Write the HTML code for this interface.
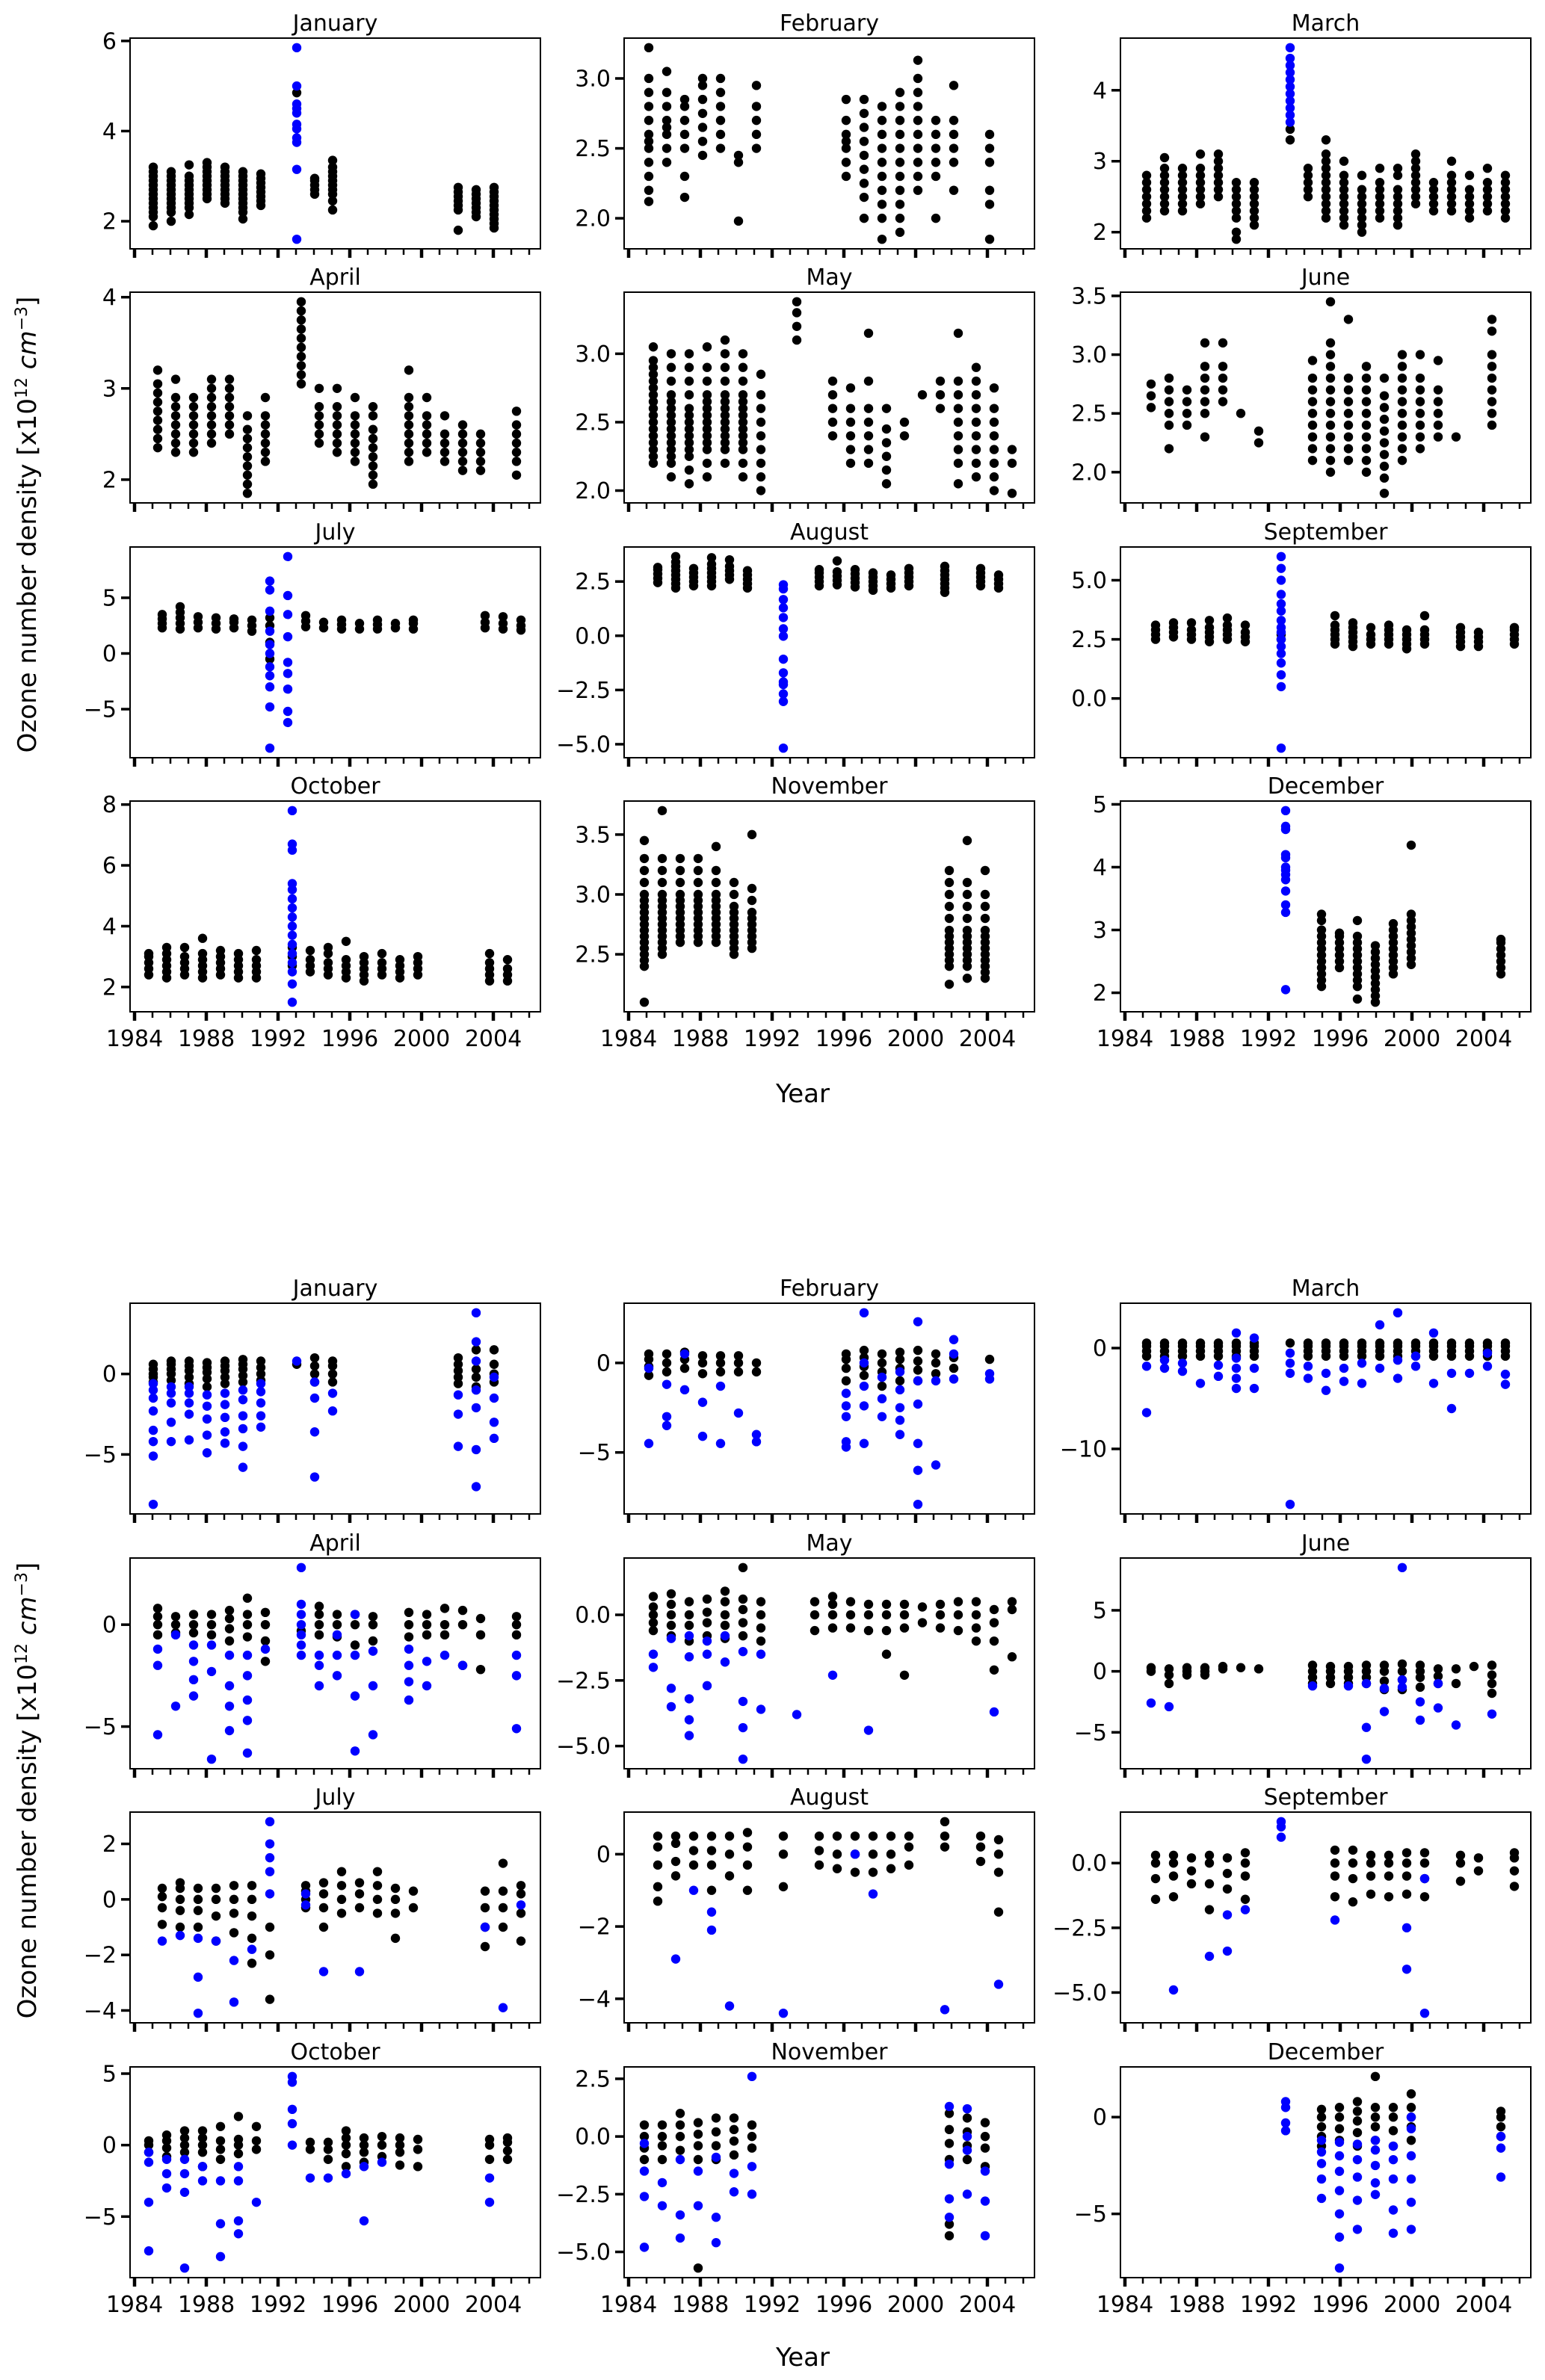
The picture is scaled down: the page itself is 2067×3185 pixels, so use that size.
<!DOCTYPE html>
<html><head><meta charset="utf-8"><style>
html,body{margin:0;padding:0;background:#fff}
svg{display:block}
text{font-family:"DejaVu Sans","Liberation Sans",sans-serif;fill:#000}
</style></head><body>
<svg id="fig" width="2067" height="3185" viewBox="0 0 2067 3185" xmlns="http://www.w3.org/2000/svg">
<text transform="translate(48,702) rotate(-90)" text-anchor="middle" font-size="34">Ozone number density [x10<tspan baseline-shift="super" font-size="22">12</tspan> <tspan font-style="italic">cm</tspan><tspan baseline-shift="super" font-size="22">−3</tspan>]</text>
<text transform="translate(48,2396) rotate(-90)" text-anchor="middle" font-size="34">Ozone number density [x10<tspan baseline-shift="super" font-size="22">12</tspan> <tspan font-style="italic">cm</tspan><tspan baseline-shift="super" font-size="22">−3</tspan>]</text>
<text x="1074" y="1475" text-anchor="middle" font-size="34">Year</text>
<text x="1074" y="3166" text-anchor="middle" font-size="34">Year</text>
</svg>
<script>
const monthTitles=["January","February","March","April","May","June","July","August","September","October","November","December"];
const xTickYears=[1984,1988,1992,1996,2000,2004];

const topJan=[[1985,[1.9,2.1,2.2,2.3,2.4,2.5,2.6,2.7,2.8,2.9,3.0,3.1,3.2],[]],[1986,[2.0,2.2,2.3,2.4,2.5,2.6,2.7,2.8,2.9,3.0,3.1],[]],[1987,[2.15,2.3,2.4,2.5,2.6,2.7,2.8,2.9,3.0,3.25],[]],[1988,[2.5,2.6,2.7,2.8,2.9,3.0,3.1,3.2,3.3],[]],[1989,[2.4,2.5,2.6,2.7,2.8,2.9,3.0,3.1,3.2],[]],[1990,[2.05,2.2,2.3,2.4,2.5,2.6,2.7,2.8,2.9,3.0,3.1],[]],[1991,[2.35,2.45,2.55,2.65,2.75,2.85,2.95,3.05],[]],[1993,[4.85],[1.6,3.15,3.75,3.85,4.05,4.15,4.4,4.5,4.6,5.0,5.85]],[1994,[2.6,2.7,2.8,2.9,2.95],[]],[1995,[2.25,2.45,2.6,2.7,2.8,2.9,3.0,3.1,3.2,3.35],[]],[2002,[1.8,2.25,2.35,2.45,2.55,2.65,2.75],[]],[2003,[2.1,2.2,2.3,2.4,2.5,2.6,2.7],[]],[2004,[1.85,1.95,2.05,2.15,2.25,2.35,2.45,2.55,2.65,2.75],[]]];
const topFeb=[[1985,[2.12,2.2,2.3,2.4,2.5,2.55,2.6,2.7,2.8,2.9,3.0,3.22],[]],[1986,[2.4,2.5,2.6,2.65,2.7,2.8,2.9,3.05],[]],[1987,[2.15,2.3,2.5,2.6,2.7,2.8,2.85],[]],[1988,[2.45,2.55,2.65,2.75,2.85,2.95,3.0],[]],[1989,[2.5,2.6,2.7,2.8,2.9,3.0],[]],[1990,[1.98,2.4,2.45],[]],[1991,[2.5,2.6,2.7,2.8,2.95],[]],[1996,[2.3,2.4,2.5,2.55,2.6,2.7,2.85],[]],[1997,[2.0,2.15,2.25,2.35,2.45,2.55,2.65,2.75,2.85],[]],[1998,[1.85,2.0,2.1,2.2,2.3,2.4,2.5,2.6,2.7,2.8],[]],[1999,[1.9,2.0,2.1,2.2,2.3,2.4,2.5,2.6,2.7,2.8,2.9],[]],[2000,[2.2,2.3,2.4,2.5,2.6,2.7,2.8,2.9,3.0,3.13],[]],[2001,[2.0,2.3,2.4,2.5,2.6,2.7],[]],[2002,[2.2,2.4,2.5,2.6,2.7,2.95],[]],[2004,[1.85,2.1,2.2,2.4,2.5,2.6],[]]];
const topMar=[[1985,[2.2,2.3,2.4,2.5,2.6,2.7,2.8],[]],[1986,[2.3,2.4,2.5,2.6,2.7,2.8,2.9,3.05],[]],[1987,[2.3,2.4,2.5,2.6,2.7,2.8,2.9],[]],[1988,[2.4,2.5,2.6,2.7,2.8,2.9,3.1],[]],[1989,[2.5,2.6,2.7,2.8,2.9,3.0,3.1],[]],[1990,[1.9,2.0,2.2,2.3,2.4,2.5,2.6,2.7],[]],[1991,[2.1,2.2,2.3,2.4,2.5,2.6,2.7],[]],[1993,[3.3,3.45],[3.55,3.65,3.75,3.85,3.95,4.05,4.15,4.25,4.35,4.45,4.6]],[1994,[2.5,2.6,2.7,2.8,2.9],[]],[1995,[2.2,2.3,2.4,2.5,2.6,2.7,2.8,2.9,3.0,3.1,3.3],[]],[1996,[2.1,2.2,2.3,2.4,2.5,2.6,2.7,2.8,3.0],[]],[1997,[2.0,2.1,2.2,2.3,2.4,2.5,2.6,2.8],[]],[1998,[2.2,2.3,2.4,2.5,2.6,2.7,2.9],[]],[1999,[2.1,2.2,2.3,2.4,2.5,2.6,2.8,2.9],[]],[2000,[2.4,2.5,2.6,2.7,2.8,2.9,3.0,3.1],[]],[2001,[2.3,2.4,2.5,2.6,2.7],[]],[2002,[2.3,2.4,2.5,2.6,2.7,2.8,3.0],[]],[2003,[2.2,2.3,2.4,2.5,2.6,2.8],[]],[2004,[2.3,2.4,2.5,2.6,2.7,2.9],[]],[2005,[2.2,2.3,2.4,2.5,2.6,2.7,2.8],[]]];
const topApr=[[1985,[2.35,2.45,2.55,2.65,2.75,2.85,2.95,3.05,3.2],[]],[1986,[2.3,2.4,2.5,2.6,2.7,2.8,2.9,3.1],[]],[1987,[2.3,2.4,2.5,2.6,2.7,2.8,2.9],[]],[1988,[2.4,2.5,2.6,2.7,2.8,2.9,3.0,3.1],[]],[1989,[2.5,2.6,2.7,2.8,2.9,3.0,3.1],[]],[1990,[1.85,1.95,2.05,2.15,2.25,2.35,2.45,2.55,2.7],[]],[1991,[2.2,2.3,2.4,2.5,2.6,2.7,2.9],[]],[1993,[3.05,3.15,3.25,3.35,3.45,3.55,3.65,3.75,3.85,3.95],[]],[1994,[2.4,2.5,2.6,2.7,2.8,3.0],[]],[1995,[2.3,2.4,2.5,2.6,2.7,2.8,3.0],[]],[1996,[2.2,2.3,2.4,2.5,2.6,2.7,2.9],[]],[1997,[1.95,2.05,2.15,2.25,2.35,2.45,2.55,2.7,2.8],[]],[1999,[2.2,2.3,2.4,2.5,2.6,2.7,2.8,2.9,3.2],[]],[2000,[2.3,2.4,2.5,2.6,2.7,2.9],[]],[2001,[2.2,2.3,2.4,2.5,2.7],[]],[2002,[2.1,2.2,2.3,2.4,2.5,2.6],[]],[2003,[2.1,2.2,2.3,2.4,2.5],[]],[2005,[2.05,2.2,2.3,2.4,2.5,2.6,2.75],[]]];
const topMay=[[1985,[2.2,2.25,2.3,2.35,2.4,2.45,2.5,2.55,2.6,2.65,2.7,2.75,2.8,2.85,2.9,2.95,3.05],[]],[1986,[2.1,2.2,2.25,2.3,2.35,2.4,2.45,2.5,2.55,2.6,2.65,2.7,2.8,2.9,3.0],[]],[1987,[2.05,2.15,2.25,2.3,2.35,2.4,2.45,2.5,2.55,2.6,2.7,2.8,2.9,3.0],[]],[1988,[2.1,2.2,2.3,2.35,2.4,2.45,2.5,2.55,2.6,2.65,2.7,2.8,2.9,3.05],[]],[1989,[2.2,2.3,2.35,2.4,2.45,2.5,2.55,2.6,2.65,2.7,2.8,2.9,3.0,3.1],[]],[1990,[2.1,2.2,2.3,2.35,2.4,2.45,2.5,2.55,2.6,2.65,2.7,2.8,2.9,3.0],[]],[1991,[2.0,2.1,2.2,2.3,2.4,2.5,2.6,2.7,2.85],[]],[1993,[3.1,3.2,3.3,3.38],[]],[1995,[2.4,2.5,2.6,2.7,2.8],[]],[1996,[2.2,2.3,2.4,2.5,2.6,2.75],[]],[1997,[2.2,2.3,2.4,2.5,2.6,2.8,3.15],[]],[1998,[2.05,2.15,2.25,2.35,2.45,2.6],[]],[1999,[2.4,2.5],[]],[2000,[2.7],[]],[2001,[2.6,2.7,2.8],[]],[2002,[2.05,2.2,2.3,2.4,2.5,2.6,2.7,2.8,3.15],[]],[2003,[2.1,2.2,2.3,2.4,2.5,2.6,2.7,2.8,2.9],[]],[2004,[2.0,2.1,2.2,2.3,2.4,2.5,2.6,2.75],[]],[2005,[1.98,2.2,2.3],[]]];
const topJun=[[1985,[2.55,2.65,2.75],[]],[1986,[2.2,2.4,2.5,2.6,2.7,2.8],[]],[1987,[2.4,2.5,2.6,2.7],[]],[1988,[2.3,2.5,2.6,2.7,2.8,2.9,3.1],[]],[1989,[2.6,2.7,2.8,2.9,3.1],[]],[1990,[2.5],[]],[1991,[2.25,2.35],[]],[1994,[2.1,2.2,2.3,2.4,2.5,2.6,2.7,2.8,2.95],[]],[1995,[2.0,2.1,2.2,2.3,2.4,2.5,2.6,2.7,2.8,2.9,3.0,3.1,3.45],[]],[1996,[2.1,2.2,2.3,2.4,2.5,2.6,2.7,2.8,3.3],[]],[1997,[2.0,2.1,2.2,2.3,2.4,2.5,2.6,2.7,2.8,2.9],[]],[1998,[1.82,1.95,2.05,2.15,2.25,2.35,2.45,2.55,2.65,2.8],[]],[1999,[2.1,2.2,2.3,2.4,2.5,2.6,2.7,2.8,2.9,3.0],[]],[2000,[2.2,2.3,2.4,2.5,2.6,2.7,2.8,3.0],[]],[2001,[2.3,2.4,2.5,2.6,2.7,2.95],[]],[2002,[2.3],[]],[2004,[2.4,2.5,2.6,2.7,2.8,2.9,3.0,3.2,3.3],[]]];
const topJul=[[1985,[2.3,2.7,3.1,3.5],[]],[1986,[2.2,2.7,3.2,3.7,4.2],[]],[1987,[2.3,2.8,3.3],[]],[1988,[2.2,2.7,3.2],[]],[1989,[2.3,2.8,3.1],[]],[1990,[2.0,2.5,3.0],[]],[1991,[-0.5,1.0,2.5,3.2],[-8.5,-4.8,-3.0,-2.0,-1.2,0.0,0.8,2.0,3.8,5.7,6.5]],[1992,[],[-6.2,-5.2,-3.2,-1.8,-0.8,1.5,3.5,5.2,8.7]],[1993,[2.4,2.9,3.4],[]],[1994,[2.3,2.8],[]],[1995,[2.2,2.6,3.0],[]],[1996,[2.2,2.7],[]],[1997,[2.2,2.6,3.0],[]],[1998,[2.3,2.7],[]],[1999,[2.2,2.7,3.0],[]],[2003,[2.3,2.8,3.4],[]],[2004,[2.2,2.7,3.3],[]],[2005,[2.1,2.5,3.0],[]]];
const topAug=[[1985,[2.45,2.65,2.85,3.05,3.15],[]],[1986,[2.2,2.4,2.6,2.8,3.0,3.2,3.4,3.65],[]],[1987,[2.3,2.5,2.7,2.9,3.1],[]],[1988,[2.3,2.5,2.7,2.9,3.1,3.3,3.6],[]],[1989,[2.6,2.8,3.0,3.2,3.5],[]],[1990,[2.2,2.4,2.6,2.8,3.0],[]],[1992,[],[-5.18,-3.03,-2.68,-2.25,-2.13,-1.71,-1.08,-0.02,0.32,0.84,1.29,1.67,2.16,2.35]],[1994,[2.3,2.5,2.7,2.9,3.05],[]],[1995,[2.35,2.55,2.75,2.95,3.45],[]],[1996,[2.25,2.45,2.65,2.85,3.05],[]],[1997,[2.1,2.3,2.5,2.7,2.9],[]],[1998,[2.2,2.4,2.6,2.8],[]],[1999,[2.3,2.5,2.7,2.9,3.1],[]],[2001,[2.0,2.2,2.4,2.6,2.8,3.0,3.2],[]],[2003,[2.3,2.5,2.7,2.9,3.1],[]],[2004,[2.2,2.4,2.6,2.8],[]]];
const topSep=[[1985,[2.5,2.7,2.9,3.1],[]],[1986,[2.6,2.8,3.0,3.2],[]],[1987,[2.5,2.7,2.9,3.2],[]],[1988,[2.4,2.6,2.8,3.0,3.3],[]],[1989,[2.5,2.7,2.9,3.1,3.4],[]],[1990,[2.4,2.6,2.8,3.1],[]],[1992,[2.5,2.7],[-2.1,0.5,1.0,1.5,1.9,2.2,2.5,2.8,3.0,3.3,3.7,4.0,4.4,5.0,5.5,6.0]],[1995,[2.3,2.5,2.7,2.9,3.1,3.5],[]],[1996,[2.2,2.4,2.6,2.8,3.0,3.2],[]],[1997,[2.3,2.5,2.7,3.0],[]],[1998,[2.3,2.5,2.7,2.9,3.1],[]],[1999,[2.1,2.3,2.5,2.7,2.9],[]],[2000,[2.3,2.5,2.7,2.9,3.5],[]],[2002,[2.2,2.4,2.6,2.8,3.0],[]],[2003,[2.2,2.4,2.6,2.8],[]],[2005,[2.3,2.5,2.7,2.9,3.0],[]]];
const topOct=[[1984,[2.4,2.6,2.8,3.0,3.1],[]],[1985,[2.3,2.5,2.7,2.9,3.1,3.3],[]],[1986,[2.4,2.6,2.8,3.0,3.3],[]],[1987,[2.3,2.5,2.7,2.9,3.1,3.6],[]],[1988,[2.4,2.6,2.8,3.0,3.2],[]],[1989,[2.3,2.5,2.7,2.9,3.1],[]],[1990,[2.3,2.5,2.7,2.9,3.2],[]],[1992,[2.7,3.0,3.3],[1.5,2.1,2.5,2.8,3.1,3.4,3.7,4.0,4.3,4.6,4.9,5.2,5.4,6.5,6.7,7.8]],[1993,[2.5,2.7,2.9,3.2],[]],[1994,[2.4,2.6,2.8,3.1,3.3],[]],[1995,[2.3,2.5,2.7,2.9,3.5],[]],[1996,[2.2,2.4,2.6,2.8,3.0],[]],[1997,[2.4,2.6,2.8,3.1],[]],[1998,[2.3,2.5,2.7,2.9],[]],[1999,[2.4,2.6,2.8,3.0],[]],[2003,[2.2,2.4,2.6,2.8,3.1],[]],[2004,[2.2,2.4,2.6,2.9],[]]];
const topNov=[[1984,[2.1,2.4,2.45,2.5,2.55,2.6,2.65,2.7,2.75,2.8,2.85,2.9,2.95,3.0,3.1,3.2,3.3,3.45],[]],[1985,[2.5,2.55,2.6,2.65,2.7,2.75,2.8,2.85,2.9,2.95,3.0,3.1,3.2,3.3,3.7],[]],[1986,[2.6,2.65,2.7,2.75,2.8,2.85,2.9,2.95,3.0,3.1,3.2,3.3],[]],[1987,[2.6,2.65,2.7,2.75,2.8,2.85,2.9,2.95,3.0,3.1,3.2,3.3],[]],[1988,[2.6,2.65,2.7,2.75,2.8,2.85,2.9,2.95,3.0,3.1,3.2,3.4],[]],[1989,[2.5,2.55,2.6,2.65,2.7,2.75,2.8,2.85,2.9,3.0,3.1],[]],[1990,[2.55,2.6,2.65,2.7,2.75,2.8,2.85,2.95,3.05,3.5],[]],[2001,[2.25,2.4,2.45,2.5,2.55,2.6,2.65,2.7,2.8,2.9,3.0,3.1,3.2],[]],[2002,[2.3,2.4,2.45,2.5,2.55,2.6,2.65,2.7,2.8,2.9,3.0,3.1,3.45],[]],[2003,[2.3,2.35,2.4,2.45,2.5,2.55,2.6,2.65,2.7,2.8,2.9,3.0,3.2],[]]];
const topDec=[[1992,[],[2.05,3.28,3.4,3.62,3.8,3.88,3.95,4.0,4.15,4.2,4.6,4.65,4.9]],[1994,[2.1,2.2,2.3,2.4,2.5,2.6,2.7,2.8,2.9,3.0,3.15,3.25],[]],[1995,[2.4,2.5,2.6,2.7,2.8,2.9,2.95],[]],[1996,[1.9,2.1,2.2,2.3,2.4,2.5,2.6,2.7,2.8,2.9,3.15],[]],[1997,[1.85,1.95,2.05,2.15,2.25,2.35,2.45,2.55,2.65,2.75],[]],[1998,[2.3,2.4,2.5,2.6,2.7,2.8,2.9,3.0,3.1],[]],[1999,[2.45,2.55,2.65,2.75,2.85,2.95,3.05,3.15,3.25,4.35],[]],[2004,[2.3,2.4,2.5,2.6,2.7,2.8,2.85],[]]];

const botJan=[[1985,[-0.5,-0.2,0,0.3,0.6],[-8.1,-5.1,-4.2,-3.5,-2.3,-1.5,-1,-0.6]],[1986,[-0.4,0,0.3,0.6,0.8],[-4.2,-3,-1.8,-1.2,-0.8]],[1987,[-0.6,-0.2,0.2,0.5,0.8],[-4.1,-2.5,-1.8,-1.2,-0.8]],[1988,[-0.8,-0.3,0.1,0.4,0.7],[-4.9,-3.8,-2.8,-2,-1.3]],[1989,[-0.6,-0.2,0.2,0.5,0.8],[-4.3,-3.6,-2.7,-1.9,-1.2]],[1990,[-0.5,-0.1,0.3,0.6,0.9],[-5.8,-4.5,-3.4,-2.6,-1.6,-1]],[1991,[-0.4,0,0.4,0.8],[-3.3,-2.6,-1.8,-1.1,-0.6]],[1993,[0.6],[0.8]],[1994,[-0.5,0,0.5,1],[-6.4,-3.6,-1.5,-0.5]],[1995,[-0.5,0,0.5,0.8],[-2.3,-1.2]],[2002,[-0.6,-0.2,0.2,0.6,1],[-4.5,-2.5,-1.3]],[2003,[-0.8,-0.2,0.3,1.5],[-7,-4.7,-2.1,-1,0.8,2,3.8]],[2004,[-0.5,0,0.6,1.5],[-4,-3,-1.5,-0.2]]];
const botFeb=[[1985,[-0.7,-0.2,0.2,0.5],[-4.5,-0.3]],[1986,[-0.5,0,0.5],[-3.5,-3,-1.2]],[1987,[-0.3,0.2,0.6],[-1.5,0.5]],[1988,[-0.6,0,0.4],[-4.1,-2.2]],[1989,[-0.5,0,0.4],[-4.5,-1.3]],[1990,[-0.5,0,0.4],[-2.8]],[1991,[-0.5,0],[-4.4,-4]],[1996,[-1,-0.3,0.2,0.5],[-4.7,-4.4,-3,-2.4,-1.7]],[1997,[-0.7,-0.2,0.3,0.7],[-4.5,-2.4,-1.3,0,2.8]],[1998,[-1.3,-0.5,0,0.5],[-3,-2,-0.8]],[1999,[-1,-0.3,0.2,0.6],[-4,-3.2,-2.5,-1.5,-0.5]],[2000,[-1,-0.4,0.1,0.7],[-7.9,-6,-4.5,-2.3,-1,2.3]],[2001,[-0.6,0,0.5],[-5.7,-1]],[2002,[-0.3,0.3],[-0.9,0.5,1.3]],[2004,[0.2],[-0.9,-0.6]]];
const botMar=[[1985,[-0.8,-0.3,0.2,0.5],[-6.4,-1.8]],[1986,[-0.8,-0.3,0.2,0.5],[-2,-1.2]],[1987,[-0.8,-0.3,0.2,0.5],[-2.3,-1.5]],[1988,[-0.8,-0.3,0.2,0.5],[-3.5]],[1989,[-0.8,-0.3,0.2,0.5],[-2.8,-1.7]],[1990,[-0.8,-0.3,0.2,0.5],[-4,-3,-2,-1,1.5]],[1991,[-0.8,-0.3,0.2,0.5],[-4,-2,1]],[1993,[0.5],[-15.5,-2.5,-1.5,-0.5]],[1994,[-0.8,-0.3,0.2,0.5],[-3,-1.8]],[1995,[-0.8,-0.3,0.2,0.5],[-4.2,-2.5]],[1996,[-0.8,-0.3,0.2,0.5],[-3.3,-2]],[1997,[-0.8,-0.3,0.2,0.5],[-3.5,-1.5]],[1998,[-0.8,-0.3,0.2,0.5],[-2,2.3]],[1999,[-0.8,-0.3,0.2,0.5],[-3,-1.2,3.5]],[2000,[-0.8,-0.3,0.2,0.5],[-1.8,-0.8]],[2001,[-0.8,-0.3,0.2,0.5],[-3.5,1.5]],[2002,[-0.8,-0.3,0.2,0.5],[-6,-2.5]],[2003,[-0.8,-0.3,0.2,0.5],[-2.5]],[2004,[-0.8,-0.3,0.2,0.5],[-1.8,-0.5]],[2005,[-0.8,-0.3,0.2,0.5],[-3.6,-2.6]]];
const botApr=[[1985,[-0.5,0,0.4,0.8],[-5.4,-2,-1.2]],[1986,[-0.4,0,0.4],[-4,-0.5]],[1987,[-0.4,0,0.5],[-3.5,-2.7,-1.8,-1]],[1988,[-0.5,0,0.5],[-6.6,-2.3,-1]],[1989,[-0.8,-0.2,0.3,0.7],[-5.2,-4,-3,-1.5]],[1990,[-0.6,0,0.5,1.3],[-6.3,-4.7,-3.7,-2.5,-1.5]],[1991,[-1.8,-0.8,0,0.6],[-1.2]],[1993,[-0.3],[-1.5,-1,-0.5,0,0.5,1,2.8]],[1994,[-0.5,0,0.5,0.9],[-3,-2,-1.5]],[1995,[-0.6,0,0.5],[-2.5,-1.5,-0.5]],[1996,[-1,0,0.5],[-6.2,-3.5,-1.5,0.5]],[1997,[-0.8,0,0.4],[-5.4,-3,-1.3]],[1999,[-0.6,0,0.6],[-3.7,-2.8,-2,-1.2]],[2000,[-0.5,0,0.5],[-3,-1.8]],[2001,[-0.5,0,0.8],[-1.5]],[2002,[-2,0,0.7],[-2]],[2003,[-2.2,-0.5,0.3],[]],[2005,[-0.5,0,0.4],[-5.1,-2.5,-1.5]]];
const botMay=[[1985,[-0.6,-0.3,0,0.3,0.7],[-2,-1.5]],[1986,[-0.8,-0.4,0,0.4,0.8],[-3.5,-2.8,-0.9]],[1987,[-1,-0.4,0,0.5],[-4.6,-4,-3.2,-1.6,-0.8]],[1988,[-0.8,-0.3,0.1,0.6],[-2.7,-1.5,-1]],[1989,[-0.9,-0.4,0,0.5,0.9],[-1.8,-0.8]],[1990,[-0.8,-0.3,0.2,0.6,1.8],[-5.5,-4.3,-3.3,-1.4]],[1991,[-1,-0.5,0,0.5],[-3.6,-1.5]],[1993,[],[-3.8]],[1994,[-0.6,0,0.5],[]],[1995,[-0.5,0,0.4,0.7],[-2.3]],[1996,[-0.5,0,0.5],[]],[1997,[-0.6,0,0.4],[-4.4]],[1998,[-1.5,-0.6,0,0.4],[]],[1999,[-2.3,-0.5,0,0.4],[]],[2000,[-0.3,0.3],[]],[2001,[-0.5,0,0.4],[]],[2002,[-0.6,0,0.5],[]],[2003,[-1,-0.5,0,0.5],[]],[2004,[-2.1,-1,-0.3,0.2],[-3.7]],[2005,[-1.6,0.2,0.5],[]]];
const botJun=[[1985,[0,0.3],[-2.6]],[1986,[-1,-0.3,0.2],[-2.9]],[1987,[-0.3,0,0.3],[]],[1988,[-0.3,0,0.3],[]],[1989,[0.2,0.4],[]],[1990,[0.3],[]],[1991,[0.2],[]],[1994,[-1,-0.5,0,0.5],[-1.2]],[1995,[-1,-0.5,0,0.4],[]],[1996,[-1,-0.5,0,0.4],[-1.2]],[1997,[-1,-0.5,0,0.5],[-7.2,-4.6,-1]],[1998,[-1.5,-0.8,0,0.5],[-3.3,-1.4]],[1999,[-1.5,-0.7,0,0.6],[-1.3,-0.7,8.5]],[2000,[-1.3,-0.5,0,0.5],[-4,-2.5]],[2001,[-1,-0.4,0.2],[-3,-1]],[2002,[-1,0.2],[-4.4]],[2003,[0.4],[]],[2004,[-1.8,-1,-0.3,0.5],[-3.5]]];
const botJul=[[1985,[-0.9,-0.3,0.1,0.4],[-1.5]],[1986,[-1,-0.4,0,0.4,0.6],[-1.3]],[1987,[-1,-0.4,0,0.4],[-4.1,-2.8,-1.4]],[1988,[-1.5,-0.6,0,0.4],[-1.5]],[1989,[-1.2,-0.5,0,0.5],[-3.7,-2.2]],[1990,[-2.3,-1.4,-0.6,0,0.5],[-1.8]],[1991,[-3.6,-2,-1],[0.2,1,1.5,2,2.8]],[1993,[-0.3,0,0.3,0.5],[-0.2,0.2]],[1994,[-1,-0.3,0.2,0.6],[-2.6]],[1995,[-0.5,0,0.5,1],[]],[1996,[-0.3,0.2,0.6],[-2.6]],[1997,[-0.5,0,0.5,1],[]],[1998,[-1.4,-0.5,0,0.4],[]],[1999,[-0.3,0.3],[]],[2003,[-1.7,-1,-0.3,0.3],[-1]],[2004,[-1,-0.3,0.3,1.3],[-3.9]],[2005,[-1.5,-0.5,0.2,0.5],[-0.2]]];
const botAug=[[1985,[-1.3,-0.9,-0.3,0.2,0.5],[]],[1986,[-0.6,-0.2,0.3,0.5],[-2.9]],[1987,[-0.3,0.1,0.5],[-1]],[1988,[-1,-0.3,0.1,0.5],[-2.1,-1.6]],[1989,[-0.6,0,0.5],[-4.2]],[1990,[-1,-0.3,0.2,0.6],[]],[1992,[-0.9,0,0.5],[-4.4]],[1994,[-0.3,0.1,0.5],[]],[1995,[-0.4,0,0.5],[]],[1996,[-0.5,0,0.5],[0]],[1997,[-0.5,0,0.5],[-1.1]],[1998,[-0.4,0,0.5],[]],[1999,[-0.3,0.2,0.5],[]],[2001,[0.2,0.5,0.9],[-4.3]],[2003,[-0.2,0.2,0.5],[]],[2004,[-1.6,-0.5,0,0.4],[-3.6]]];
const botSep=[[1985,[-1.4,-0.6,0,0.3],[]],[1986,[-1.3,-0.5,0,0.3],[-4.9]],[1987,[-0.8,-0.3,0.2],[]],[1988,[-1.8,-0.8,0,0.3],[-3.6]],[1989,[-1,-0.4,0.2],[-3.4,-2]],[1990,[-1.4,-0.5,0,0.4],[-1.8]],[1992,[],[1,1.4,1.6]],[1995,[-1.3,-0.5,0,0.5],[-2.2]],[1996,[-1.5,-0.6,0,0.5],[]],[1997,[-1.2,-0.5,0,0.3],[]],[1998,[-1.3,-0.5,0,0.3],[]],[1999,[-1.2,-0.5,0,0.4],[-4.1,-2.5]],[2000,[-1.3,-0.6,0,0.4],[-5.8,-0.6]],[2002,[-0.7,0,0.3],[]],[2003,[-0.3,0.2],[]],[2005,[-0.9,-0.3,0.2,0.4],[]]];
const botOct=[[1984,[-0.5,0,0.3],[-7.4,-4,-1.2,-0.5]],[1985,[-0.8,-0.2,0.3,0.7],[-3,-2,-1]],[1986,[-0.5,0,0.5,1],[-8.6,-3.3,-2,-1]],[1987,[-1.5,-0.5,0,0.5,1],[-2.5,-1.5]],[1988,[-1,-0.3,0.3,1.3],[-7.8,-5.5,-2.5]],[1989,[-0.6,0,0.4,2],[-6.2,-5.3,-2.5,-1.5]],[1990,[-0.3,0.3,1.3],[-4]],[1992,[],[0,1.5,2.5,4.4,4.8]],[1993,[-0.3,0.2],[-2.3]],[1994,[-1,-0.3,0.2],[-2.3]],[1995,[-1.5,-0.6,0,0.5,1],[-2]],[1996,[-1.2,-0.5,0,0.5],[-5.3,-1.5]],[1997,[-0.8,0,0.6],[-1.2]],[1998,[-1.4,-0.5,0,0.5],[]],[1999,[-1.5,-0.3,0.4],[]],[2003,[-1,0,0.4],[-4,-2.3]],[2004,[-1,-0.4,0.2,0.5],[]]];
const botNov=[[1984,[-1,-0.5,0,0.5],[-4.8,-2.6,-1.5,-0.3]],[1985,[-1,-0.4,0,0.5],[-3,-2]],[1986,[-0.6,0,0.5,1],[-4.4,-3.4,-1]],[1987,[-5.7,-1,-0.4,0.1,0.6],[-3,-1.5]],[1988,[-1,-0.4,0.2,0.8],[-4.6,-3.5,-0.9]],[1989,[-0.8,-0.2,0.3,0.8],[-2.4,-1.6]],[1990,[-0.5,0,0.5],[-2.5,-1.3,2.6]],[2001,[-4.3,-3.8,-1,-0.3,0.3,1],[-3.5,-2.7,-1.2,1.3]],[2002,[-1,-0.4,0.2,0.8],[-2.5,-0.6,0,1.2]],[2003,[-1.3,-0.5,0,0.6],[-4.3,-2.8,-1.5]]];
const botDec=[[1992,[],[-0.7,-0.3,0.5,0.8]],[1994,[-1.5,-1,-0.5,0,0.4],[-4.2,-3.2,-2.4,-1.8,-1.2]],[1995,[-1.2,-0.6,0,0.5],[-7.8,-6.2,-5,-3.8,-2.8,-2,-1.3]],[1996,[-1.5,-0.8,-0.2,0.3,0.8],[-5.8,-4.3,-3.1,-2.2,-1.4]],[1997,[-1.2,-0.5,0,0.5,2.1],[-4,-3.4,-2.5,-1.7,-1.2]],[1998,[-1.5,-0.7,0,0.5],[-6,-4.8,-3.2,-2.2,-1.5]],[1999,[-1.2,-0.5,0,0.5,1.2],[-5.8,-4.4,-3.2,-2,-0.6,0]],[2004,[-1,-0.5,0,0.3],[-3.1,-1.6,-1]]];

const topTicks=[[2,4,6],[2.0,2.5,3.0],[2,3,4],[2,3,4],[2.0,2.5,3.0],[2.0,2.5,3.0,3.5],[-5,0,5],[-5.0,-2.5,0.0,2.5],[0.0,2.5,5.0],[2,4,6,8],[2.5,3.0,3.5],[2,3,4,5]];
const botTicks=[[-5,0],[-5,0],[-10,0],[-5,0],[-5.0,-2.5,0.0],[-5,0,5],[-4,-2,0,2],[-4,-2,0],[-5.0,-2.5,0.0],[-5,0,5],[-5.0,-2.5,0.0,2.5],[-5,0]];
const topData=[topJan,topFeb,topMar,topApr,topMay,topJun,topJul,topAug,topSep,topOct,topNov,topDec];
const botData=[botJan,botFeb,botMar,botApr,botMay,botJun,botJul,botAug,botSep,botOct,botNov,botDec];

const NS="http://www.w3.org/2000/svg";
const svg=document.getElementById('fig');
const colLeft=[174,835,1499], topRows=[51,391,732,1072], botRows=[1744,2085,2425,2766];
const W=549,H=282,X0=1983.75,PXY=24;
function mk(tag,attrs,parent){const e=document.createElementNS(NS,tag);for(const k in attrs)e.setAttribute(k,attrs[k]);(parent||svg).appendChild(e);return e;}
function fmt(v,dec){const s=dec?v.toFixed(1):String(Math.round(v));return s.replace('-','\u2212');}

function drawPanel(block,mi,data,ticks,left,top,showX){
  const g=mk('g',{});
  
  
  const off=(mi+0.5)/12;
  let mn=Infinity,mx=-Infinity;
  data.forEach(c=>{c[1].concat(c[2]).forEach(v=>{mn=Math.min(mn,v);mx=Math.max(mx,v);});});
  const r=mx-mn, y0=mn-0.05*r, y1=mx+0.05*r;
  const sx=x=>left+(x-X0)*PXY;
  const sy=v=>top+H-(v-y0)/(y1-y0)*H;
  const t=mk('text',{x:left+W/2,y:top-10,'text-anchor':'middle','font-size':30},g);
  
  
  t.textContent=monthTitles[mi];
  const dec=ticks.some(v=>v%1!==0);
  ticks.forEach(v=>{
    const y=sy(v);
    mk('line',{x1:left-12,x2:left,y1:y,y2:y,stroke:'#000','stroke-width':3.5},g);
    const tl=mk('text',{x:left-18,y:y+10.5,'text-anchor':'end','font-size':30},g);
    
    
    tl.textContent=fmt(v,dec);
  });
  for(let yr=1984;yr<=2006;yr++){
    const x=sx(yr), major=(yr%4===0);
    mk('line',{x1:x,x2:x,y1:top+H,y2:top+H+(major?12:8),stroke:'#000','stroke-width':major?4.5:2.5},g);
  }
  if(showX){xTickYears.forEach(yr=>{
    const tl=mk('text',{x:sx(yr),y:top+H+46,'text-anchor':'middle','font-size':30},g);
    
    
    tl.textContent=String(yr);
  });}
  data.forEach(c=>{
    const x=sx(c[0]+off);
    c[1].forEach(v=>{const d=mk('circle',{cx:x,cy:sy(v),r:6.2,fill:'#000'},g);
      
      });
    c[2].forEach(v=>{const d=mk('circle',{cx:x,cy:sy(v),r:6.2,fill:'#0000ff'},g);
      
      });
  });
  const fr=mk('rect',{x:left,y:top,width:W,height:H,fill:'none',stroke:'#000','stroke-width':2},g);
  
  
}
for(let m=0;m<12;m++){
  const c=m%3, rw=Math.floor(m/3);
  drawPanel('top',m,topData[m],topTicks[m],colLeft[c],topRows[rw],rw===3);
  drawPanel('bottom',m,botData[m],botTicks[m],colLeft[c],botRows[rw],rw===3);
}
</script>
</body></html>
